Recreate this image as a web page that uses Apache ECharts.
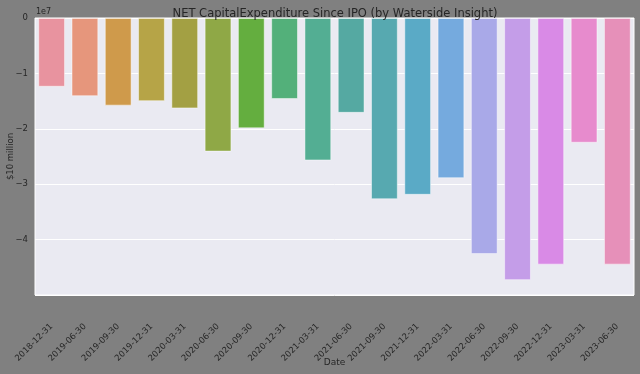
<!DOCTYPE html>
<html>
<head>
<meta charset="utf-8">
<script src="https://cdn.jsdelivr.net/npm/echarts@6/dist/echarts.min.js"></script>
<style>
html,body{margin:0;padding:0;background:#808080;}
#chart{width:640px;height:374px;}
</style>
</head>
<body>
<div id="chart"></div>
<script>
const categories = ["2018-12-31","2019-06-30","2019-09-30","2019-12-31","2020-03-31","2020-06-30","2020-09-30","2020-12-31","2021-03-31","2021-06-30","2021-09-30","2021-12-31","2022-03-31","2022-06-30","2022-09-30","2022-12-31","2023-03-31","2023-06-30"];
const capexValues = [-12400000,-14100000,-15800000,-15000000,-16300000,-24100000,-19900000,-14600000,-25700000,-17100000,-32700000,-31900000,-28900000,-42600000,-47300000,-44500000,-22500000,-44500000];
const yTicks = [0,-10000000,-20000000,-30000000,-40000000];
const palette = ["#e8939f","#e6967c","#cf9a4b","#b6a447","#a3a043","#8fa846","#64ae3f","#53b07a","#53ae93","#55a9a2","#57a9b0","#5aaac6","#75aade","#a9a9e8","#c49de8","#d98ae6","#e78bcd","#e690b9"];

const chart = echarts.init(document.getElementById('chart'), null, {renderer:'canvas'});
const font = 'DejaVu Sans';
chart.setOption({
  backgroundColor: '#808080',
  animation: false,
  title: [
    {text: 'NET CapitalExpenditure Since IPO (by Waterside Insight)', left: 330, top: 3, textAlign: 'center',
     textStyle: {fontFamily: font, fontSize: 11.5, fontWeight: 'normal', color: '#262626'}},
    {text: '1e7', left: 36, top: 8, padding: 0, textStyle: {fontFamily: font, fontSize: 8, fontWeight: 'normal', color: '#262626'}}
  ],
  grid: {left: 35, right: 6, top: 18, bottom: 79, containLabel: false, outerBoundsMode: 'none',
    show: true, backgroundColor: '#eaeaf2', borderColor: '#ffffff', borderWidth: 1},
  xAxis: {
    type: 'category', data: categories,
    name: 'Date', nameLocation: 'middle', nameGap: 63, nameMoveOverlap: false,
    nameTextStyle: {fontFamily: font, fontSize: 9, color: '#262626'},
    axisLine: {show: false}, axisTick: {show: false},
    axisLabel: {rotate: 45, margin: 30, fontFamily: font, fontSize: 8.5, color: '#262626', interval: 0}
  },
  yAxis: {
    type: 'value', min: -50000000, max: 0, interval: 10000000,
    name: '$10 million', nameLocation: 'middle', nameGap: 20, nameMoveOverlap: false,
    nameTextStyle: {fontFamily: font, fontSize: 8.5, color: '#262626'},
    axisLine: {show: false}, axisTick: {show: false},
    axisLabel: {fontFamily: font, fontSize: 8.5, color: '#262626', margin: 7,
      formatter: function(v){ if (v <= -50000000) return ''; if (yTicks.indexOf(v) < 0) return ''; const n = v/1e7; return n === 0 ? '0' : '\u2212' + Math.abs(n); }},
    splitLine: {lineStyle: {color: '#ffffff', width: 1}}
  },
  series: [{
    type: 'bar',
    barCategoryGap: '20%',
    data: capexValues.map((v, i) => ({value: v, itemStyle: {color: palette[i], borderColor: 'rgba(255,255,255,0.6)', borderWidth: 0.8}}))
  }]
});
</script>
</body>
</html>
